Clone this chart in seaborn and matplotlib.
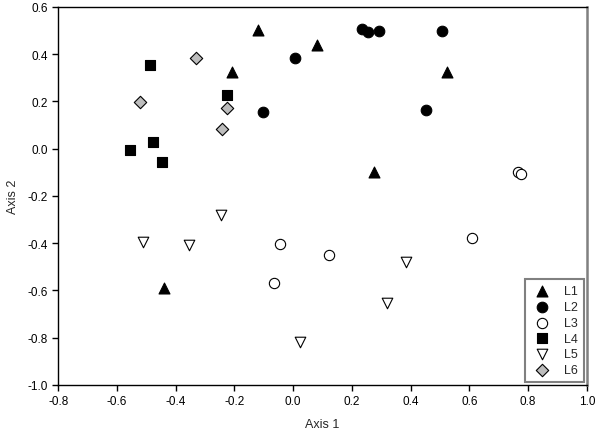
import numpy as np
import pandas as pd
import matplotlib
matplotlib.use('Agg')
import matplotlib.pyplot as plt
import seaborn as sns

# data
l1_x = [-0.121, 0.082, -0.209, 0.525, 0.275, -0.439]
l1_y = [0.504, 0.439, 0.326, 0.323, -0.097, -0.591]

l2_x = [0.006, -0.104, 0.233, 0.256, 0.292, 0.508, 0.454]
l2_y = [0.383, 0.154, 0.507, 0.493, 0.498, 0.498, 0.165]

l3_x = [0.766, 0.777, -0.045, -0.066, 0.123, 0.610]
l3_y = [-0.100, -0.106, -0.405, -0.570, -0.452, -0.379]

l4_x = [-0.489, -0.555, -0.476, -0.445, -0.225]
l4_y = [0.355, -0.005, 0.027, -0.057, 0.228]

l5_x = [-0.512, -0.355, -0.247, 0.023, 0.386, 0.318]
l5_y = [-0.396, -0.407, -0.279, -0.817, -0.481, -0.654]

l6_x = [-0.331, -0.523, -0.226, -0.242]
l6_y = [0.383, 0.197, 0.171, 0.084]

groups = ['L1', 'L2', 'L3', 'L4', 'L5', 'L6']
xs = [l1_x, l2_x, l3_x, l4_x, l5_x, l6_x]
ys = [l1_y, l2_y, l3_y, l4_y, l5_y, l6_y]
markers = ['^', 'o', 'o', 's', 'v', 'D']
faces = ['black', 'black', 'white', 'black', 'white', '#bdbdbd']
sizes = [62, 58, 55, 48, 58, 40]

xticks = [-0.8, -0.6, -0.4, -0.2, 0.0, 0.2, 0.4, 0.6, 0.8, 1.0]
yticks = [-1.0, -0.8, -0.6, -0.4, -0.2, 0.0, 0.2, 0.4, 0.6]

sns.set_style('white')
plt.rcParams['font.family'] = ['Liberation Sans', 'DejaVu Sans']

fig = plt.figure(figsize=(6, 4.39), dpi=100)
ax = fig.add_axes([0.097, 0.121, 0.881, 0.861])

for g, x, y, m, fc, s in zip(groups, xs, ys, markers, faces, sizes):
    df = pd.DataFrame({'x': x, 'y': y})
    sns.scatterplot(data=df, x='x', y='y', marker=m, color=fc,
                    edgecolor='black', linewidth=0.8, s=s, label=g, ax=ax)

ax.set_xlim(-0.8, 1.0)
ax.set_ylim(-1.0, 0.6)
ax.set_xticks(xticks)
ax.set_yticks(yticks)
ax.set_xticklabels([f'{v:.1f}' for v in xticks])
ax.set_yticklabels([f'{v:.1f}' for v in yticks])
ax.tick_params(direction='out', length=4, width=1, labelsize=8.5,
               bottom=True, left=True, colors='black')
ax.set_xlabel('Axis 1', fontsize=9, labelpad=8)
ax.set_ylabel('Axis 2', fontsize=9, labelpad=6)

for side in ['left', 'bottom', 'top']:
    ax.spines[side].set_color('black')
    ax.spines[side].set_linewidth(1.0)
ax.spines['right'].set_color('#808080')
ax.spines['right'].set_linewidth(1.8)

leg = ax.legend(loc='lower right', fontsize=9, frameon=True, fancybox=False,
                borderpad=0.5, labelspacing=0.3, handletextpad=1.0,
                borderaxespad=0.2, markerscale=1.0, handlelength=1.6)
leg.get_frame().set_edgecolor('#606060')
leg.get_frame().set_linewidth(1.5)

plt.savefig('out.png', dpi=100)
